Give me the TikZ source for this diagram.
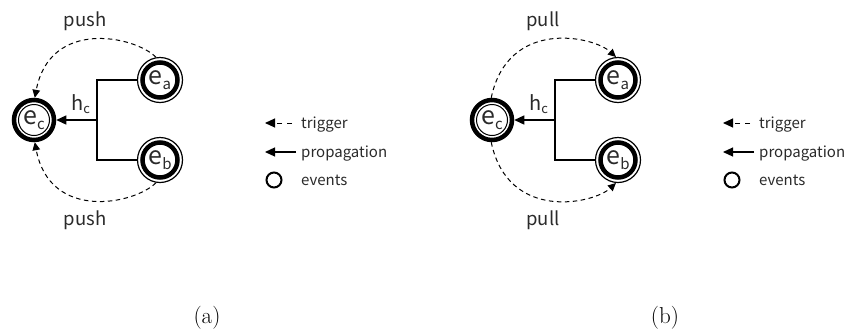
\documentclass[tikz,border=0pt]{standalone}
\usepackage{fontspec}
\newfontfamily\lbl{Noto Sans CJK JP}
\usetikzlibrary{arrows.meta}
\definecolor{txt}{HTML}{2a2a2a}
\newcommand\evlbl[2]{{\fontsize{25}{25}\selectfont #1}\raisebox{-5pt}{\fontsize{15}{15}\selectfont #2}}
\newcommand\hlbl{{\fontsize{20}{20}\selectfont h}\raisebox{-3pt}{\fontsize{13}{13}\selectfont c}}
\tikzset{
  x=1pt, y=-1pt,
  evtgt/.style={circle, draw, line width=4.5pt, minimum size=40pt, inner sep=0pt, text=txt, font=\lbl},
  evsrc/.style={circle, draw, line width=1.2pt, minimum size=45pt, inner sep=0pt, text=txt, font=\lbl},
  conn/.style={line width=1.2pt},
  prop/.style={line width=1.3pt, -{Triangle[length=10pt,width=9pt]}},
  trig/.style={line width=1pt, dash pattern=on 4.5pt off 3.5pt, -{Triangle[length=8pt,width=7.5pt]}},
  legtrig/.style={line width=1pt, dash pattern=on 5pt off 5pt, -{Triangle[length=10pt,width=9pt]}},
  lbltxt/.style={text=txt, font=\lbl\fontsize{18.5}{18.5}\selectfont, anchor=base, inner sep=0pt},
  legtxt/.style={text=txt, font=\lbl\fontsize{15}{15}\selectfont, anchor=base west, inner sep=0pt},
  legcirc/.style={circle, draw, line width=2pt, minimum size=15pt, inner sep=0pt},
  capt/.style={font=\fontsize{23}{23}\selectfont, anchor=base, inner sep=0pt}
}
\begin{document}
\begin{tikzpicture}
\useasboundingbox (0,0) rectangle (846,330);
% ---------- panel (a) ----------
\node[evtgt] (ec) at (34,120) {\evlbl{e}{c}};
\draw[line width=1pt] (ec.center) circle (15.5pt);
\node[evsrc] (ea) at (160,80) {\evlbl{e}{a}};
\draw[line width=4.5pt] (ea.center) circle (17.5pt);
\node[evsrc] (eb) at (160,160) {\evlbl{e}{b}};
\draw[line width=4.5pt] (eb.center) circle (17.5pt);
\coordinate (ja) at (97,80);
\coordinate (jb) at (97,160);
\coordinate (jm) at (97,120);
\draw[conn] (ea) -- (ja) -- (jb) -- (eb);
\draw[prop] (jm) -- (ec);
\node[anchor=base west, inner sep=0pt, text=txt, font=\lbl] (hc) at (71,110) {\hlbl};
\draw[trig] (ea.100) .. controls (135,36) and (50,18) .. (ec.88);
\draw[trig] (eb.260) .. controls (135,204) and (50,222) .. (ec.272);
\node[lbltxt] (pushtop) at (85,26) {push};
\node[lbltxt] (pushbot) at (85,225) {push};
% legend (a)
\coordinate (t1a) at (292,123);
\coordinate (t2a) at (265,123);
\draw[legtrig] (t1a) -- (t2a);
\coordinate (p1a) at (296,152);
\coordinate (p2a) at (265,152);
\draw[prop, line width=1.2pt] (p1a) -- (p2a);
\node[legcirc] (ca) at (274,180) {};
\node[legtxt] (ltra) at (301,128) {trigger};
\node[legtxt] (lpra) at (301,157) {propagation};
\node[legtxt] (leva) at (301,185) {events};
\node[capt] (capa) at (207,323) {(a)};
% ---------- panel (b) ----------
\node[evtgt] (ec2) at (492,120) {\evlbl{e}{c}};
\draw[line width=1pt] (ec2.center) circle (15.5pt);
\node[evsrc] (ea2) at (618,80) {\evlbl{e}{a}};
\draw[line width=4.5pt] (ea2.center) circle (17.5pt);
\node[evsrc] (eb2) at (618,160) {\evlbl{e}{b}};
\draw[line width=4.5pt] (eb2.center) circle (17.5pt);
\coordinate (ja2) at (555,80);
\coordinate (jb2) at (555,160);
\coordinate (jm2) at (555,120);
\draw[conn] (ea2) -- (ja2) -- (jb2) -- (eb2);
\draw[prop] (jm2) -- (ec2);
\node[anchor=base west, inner sep=0pt, text=txt, font=\lbl] (hc2) at (529,110) {\hlbl};
\draw[trig] (ec2.92) .. controls (508,18) and (593,36) .. (ea2.95);
\draw[trig] (ec2.268) .. controls (508,222) and (593,204) .. (eb2.265);
\node[lbltxt] (pulltop) at (543,26) {pull};
\node[lbltxt] (pullbot) at (543,225) {pull};
% legend (b)
\coordinate (t1b) at (750,123);
\coordinate (t2b) at (723,123);
\draw[legtrig] (t1b) -- (t2b);
\coordinate (p1b) at (754,152);
\coordinate (p2b) at (723,152);
\draw[prop, line width=1.2pt] (p1b) -- (p2b);
\node[legcirc] (cb) at (732,180) {};
\node[legtxt] (ltrb) at (759,128) {trigger};
\node[legtxt] (lprb) at (759,157) {propagation};
\node[legtxt] (levb) at (759,185) {events};
\node[capt] (capb) at (665,323) {(b)};
\end{tikzpicture}
\end{document}
